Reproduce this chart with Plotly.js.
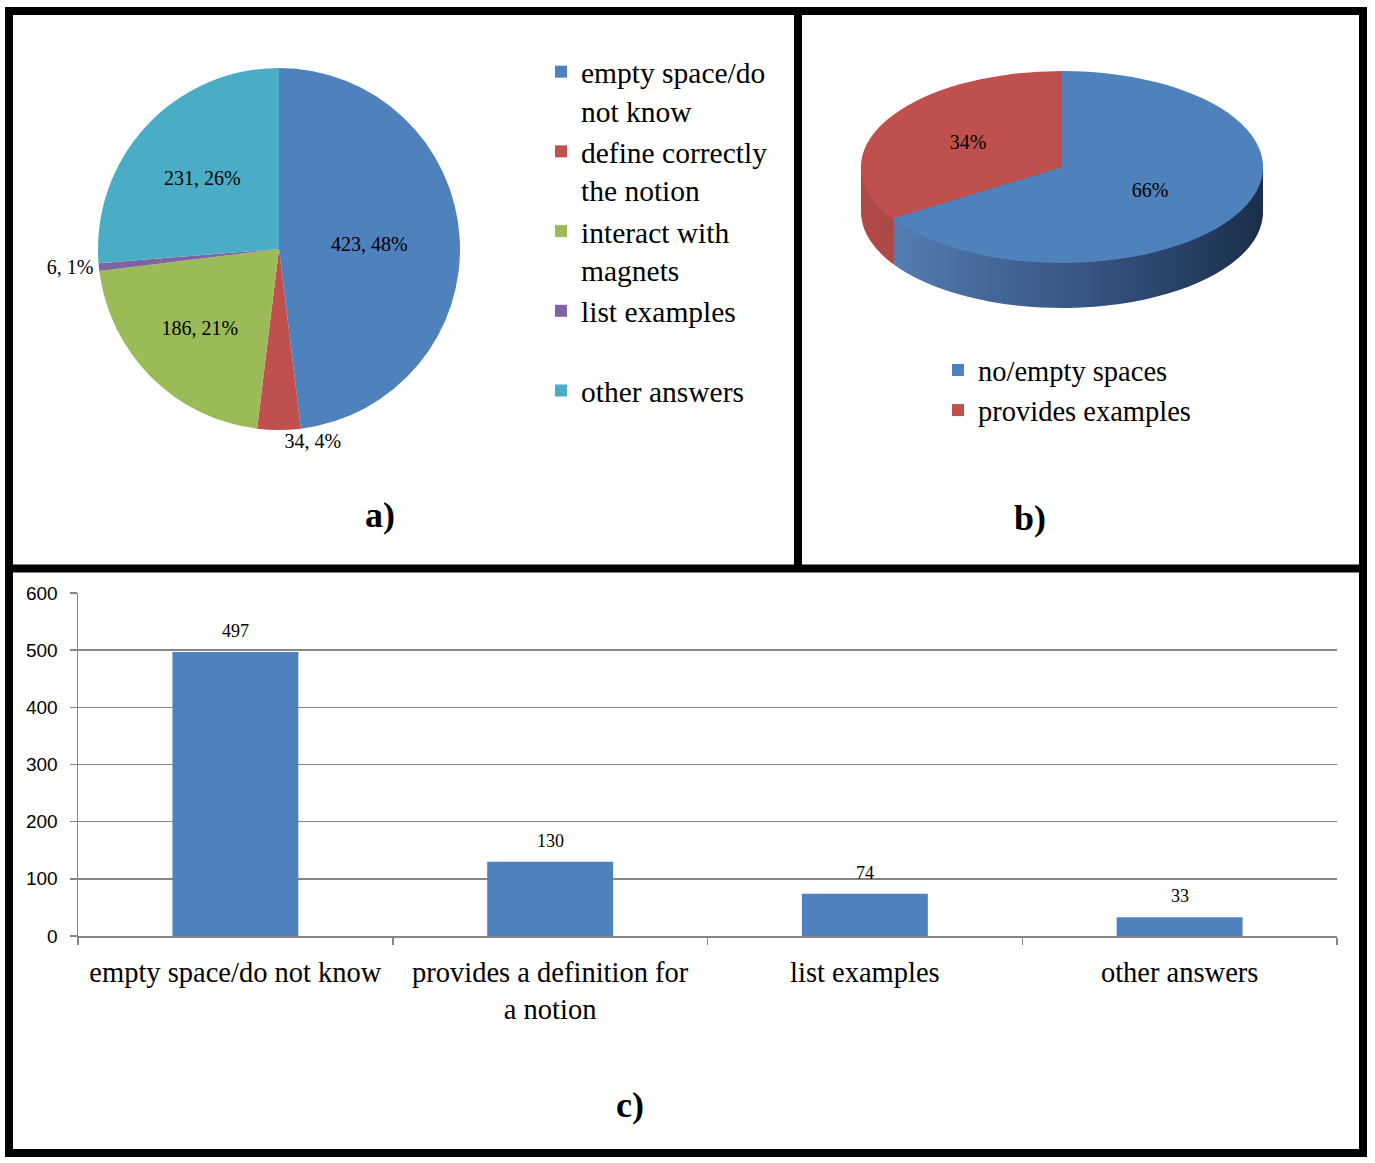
<!DOCTYPE html>
<html>
<head>
<meta charset="utf-8">
<script src="https://cdn.plot.ly/plotly-3.0.1.min.js"></script>
<style>
  html, body { margin: 0; padding: 0; background: #ffffff; }
  #chart { width: 1375px; height: 1163px; }
</style>
</head>
<body>
<div id="chart"></div>
<script>
// ---------- data ----------
const pieALabels = ["empty space/do<br>not know", "define correctly<br>the notion", "interact with<br>magnets", "list examples<br> ", "other answers"];
const pieAValues = [423, 34, 186, 6, 231];
const pieAColors = ["#4F81BD", "#C0504D", "#9BBB59", "#8064A2", "#4BACC6"];
const pieATextPos = ["inside", "outside", "inside", "outside", "inside"];

const pieBLabels = ["no/empty spaces", "provides examples"];
const pieBValues = [66, 34];
const pieBColors = ["#4F81BD", "#C0504D"];
const pieBSideColors = ["#33527D", "#A4413E"];

const barCats = ["empty space/do not know", "provides a definition for<br>a notion", "list examples", "other answers"];
const barValues = [497, 130, 74, 33];

// ---------- helpers ----------
const W = 1375, H = 1163;
const px = x => x / W;
const py = y => 1 - y / H;
const SERIF = "Liberation Serif, Times New Roman, serif";
const SANS = "Liberation Sans, Arial, sans-serif";

// pie b (tilted) geometry: squash factor and depth
const S = 0.4776;
const bCx = 1062, bR = 201, bCyScreen = 167, bDepth = 45, bLayers = 14;
const bCyU = bCyScreen / S;
function bDomain(shiftScreen) {
  const cy = bCyU + shiftScreen / S;
  return { x: [px(bCx - bR), px(bCx + bR)], y: [py(cy + bR), py(cy - bR)] };
}

const data = [];

// pie a
data.push({
  type: "pie",
  labels: pieALabels,
  values: pieAValues,
  marker: { colors: pieAColors, line: { width: 0 } },
  sort: false,
  direction: "clockwise",
  rotation: 0,
  domain: { x: [px(98), px(460)], y: [py(430), py(68)] },
  texttemplate: "%{value}, %{percent:.0%}",
  textposition: pieATextPos,
  insidetextorientation: "horizontal",
  textfont: { family: SERIF, size: 20, color: "#000" },
  insidetextfont: { family: SERIF, size: 20, color: "#000" },
  outsidetextfont: { family: SERIF, size: 20, color: "#000" },
  legend: "legend",
  hoverinfo: "none"
});

// pie b side layers (extrusion), deepest first
for (let k = bLayers; k >= 1; k--) {
  data.push({
    type: "pie",
    labels: pieBLabels,
    values: pieBValues,
    marker: { colors: pieBSideColors, line: { width: 0 } },
    sort: false,
    direction: "clockwise",
    rotation: 0,
    domain: bDomain(bDepth * k / bLayers),
    textinfo: "none",
    showlegend: false,
    hoverinfo: "none"
  });
}

// pie b top face
data.push({
  type: "pie",
  labels: pieBLabels,
  values: pieBValues,
  marker: { colors: pieBColors, line: { width: 0 } },
  sort: false,
  direction: "clockwise",
  rotation: 0,
  domain: bDomain(0),
  texttemplate: "%{percent:.0%}",
  textposition: "inside",
  insidetextorientation: "horizontal",
  textfont: { family: SERIF, size: 20, color: "#000" },
  legend: "legend2",
  hoverinfo: "none"
});

// bar chart c
data.push({
  type: "bar",
  x: barCats,
  y: barValues,
  marker: { color: "#4F81BD", line: { width: 0 } },
  showlegend: false,
  hoverinfo: "none",
  xaxis: "x",
  yaxis: "y"
});

const annotations = [
  { text: "<b>a)</b>", x: px(380), y: py(515), xref: "paper", yref: "paper", showarrow: false, xanchor: "center", yanchor: "middle", font: { family: SERIF, size: 36, color: "#000" } },
  { text: "<b>b)</b>", x: px(1030), y: py(518), xref: "paper", yref: "paper", showarrow: false, xanchor: "center", yanchor: "middle", font: { family: SERIF, size: 36, color: "#000" } },
  { text: "<b>c)</b>", x: px(630), y: py(1105), xref: "paper", yref: "paper", showarrow: false, xanchor: "center", yanchor: "middle", font: { family: SERIF, size: 36, color: "#000" } }
];
barCats.forEach((c, i) => {
  annotations.push({
    text: String(barValues[i]), x: c, y: barValues[i], xref: "x", yref: "y",
    showarrow: false, xanchor: "center", yanchor: "middle", yshift: 21,
    font: { family: SERIF, size: 18, color: "#000" }
  });
});

const frame = { color: "#000", width: 8 };
const shapes = [
  { type: "rect", xref: "paper", yref: "paper", x0: px(9), x1: px(1363), y0: py(11), y1: py(1153), line: frame, fillcolor: "rgba(0,0,0,0)" },
  { type: "line", xref: "paper", yref: "paper", x0: px(798), x1: px(798), y0: py(11), y1: py(568), line: frame },
  { type: "line", xref: "paper", yref: "paper", x0: px(9), x1: px(1363), y0: py(568.5), y1: py(568.5), line: frame }
];

const gridGray = "#868686";
const layout = {
  width: W, height: H,
  margin: { l: 0, r: 0, t: 0, b: 0, pad: 0 },
  paper_bgcolor: "#ffffff",
  plot_bgcolor: "#ffffff",
  font: { family: SERIF, color: "#000" },
  showlegend: true,
  legend: {
    x: px(541), y: py(46), xanchor: "left", yanchor: "top",
    font: { family: SERIF, size: 29.5, color: "#000" },
    valign: "top", bgcolor: "rgba(0,0,0,0)", borderwidth: 0,
    traceorder: "normal"
  },
  legend2: {
    x: px(938), y: py(345), xanchor: "left", yanchor: "top",
    font: { family: SERIF, size: 28.5, color: "#000" },
    bgcolor: "rgba(0,0,0,0)", borderwidth: 0
  },
  xaxis: {
    domain: [px(78), px(1337)],
    anchor: "y",
    type: "category",
    showgrid: false,
    showline: true, linecolor: gridGray, linewidth: 1.5,
    ticks: "outside", ticklen: 7, tickcolor: gridGray, tickwidth: 1.5,
    tickson: "boundaries",
    ticklabelstandoff: 10,
    tickfont: { family: SERIF, size: 28.5, color: "#000" },
    tickangle: 0,
    fixedrange: true
  },
  yaxis: {
    domain: [py(936), py(593)],
    anchor: "x",
    range: [0, 600],
    dtick: 100,
    showgrid: true, gridcolor: gridGray, gridwidth: 1.5,
    zeroline: false,
    showline: true, linecolor: gridGray, linewidth: 1.5,
    ticks: "outside", ticklen: 7, tickcolor: gridGray, tickwidth: 1.5,
    ticklabelstandoff: 8,
    tickfont: { family: SANS, size: 19, color: "#000" },
    fixedrange: true
  },
  bargap: 0.6,
  annotations: annotations,
  shapes: shapes
};

const gd = document.getElementById("chart");
Plotly.newPlot(gd, data, layout, { staticPlot: true, displayModeBar: false }).then(() => {
  const NS = "http://www.w3.org/2000/svg";
  const svg = gd.querySelector(".main-svg");
  let defs = svg.querySelector("defs");
  if (!defs) { defs = document.createElementNS(NS, "defs"); svg.insertBefore(defs, svg.firstChild); }
  function addGrad(id, stops) {
    const lg = document.createElementNS(NS, "linearGradient");
    lg.setAttribute("id", id);
    lg.setAttribute("gradientUnits", "userSpaceOnUse");
    lg.setAttribute("x1", bCx - bR); lg.setAttribute("x2", bCx + bR);
    lg.setAttribute("y1", 0); lg.setAttribute("y2", 0);
    stops.forEach(([o, c]) => {
      const st = document.createElementNS(NS, "stop");
      st.setAttribute("offset", o); st.setAttribute("stop-color", c);
      lg.appendChild(st);
    });
    defs.appendChild(lg);
  }
  addGrad("sideBlue", [["0", "#5A84BA"], ["0.3", "#46699A"], ["0.65", "#314E78"], ["1", "#1B2E4B"]]);
  addGrad("sideRed", [["0", "#B04A47"], ["1", "#8A3431"]]);

  // tilt pie b: squash its trace groups vertically, keep its text normal-sized
  const traces = gd.querySelectorAll(".pielayer .trace");
  for (let i = 1; i < traces.length; i++) {
    const g = traces[i];
    const prev = g.getAttribute("transform") || "";
    if (i < traces.length - 1) {
      g.querySelectorAll(".slice").forEach((sl, j) => {
        const p = sl.querySelector("path");
        if (p) p.style.fill = j === 0 ? "url(#sideBlue)" : "url(#sideRed)";
      });
    }
    g.querySelectorAll("text").forEach(t => {
      const bb = t.getBBox();
      const cons = t.transform.baseVal.consolidate();
      const cx = bb.x + bb.width / 2, cy = bb.y + bb.height / 2;
      let tx = cx, ty = cy;
      if (cons) { const m = cons.matrix; tx = m.a * cx + m.c * cy + m.e; ty = m.b * cx + m.d * cy + m.f; }
      const orig = t.getAttribute("transform") || "";
      t.setAttribute("transform", `translate(${tx},${ty}) scale(1,${1 / S}) translate(${-tx},${-ty}) ${orig}`);
    });
    g.setAttribute("transform", `scale(1,${S}) ${prev}`);
  }
});
</script>
</body>
</html>
